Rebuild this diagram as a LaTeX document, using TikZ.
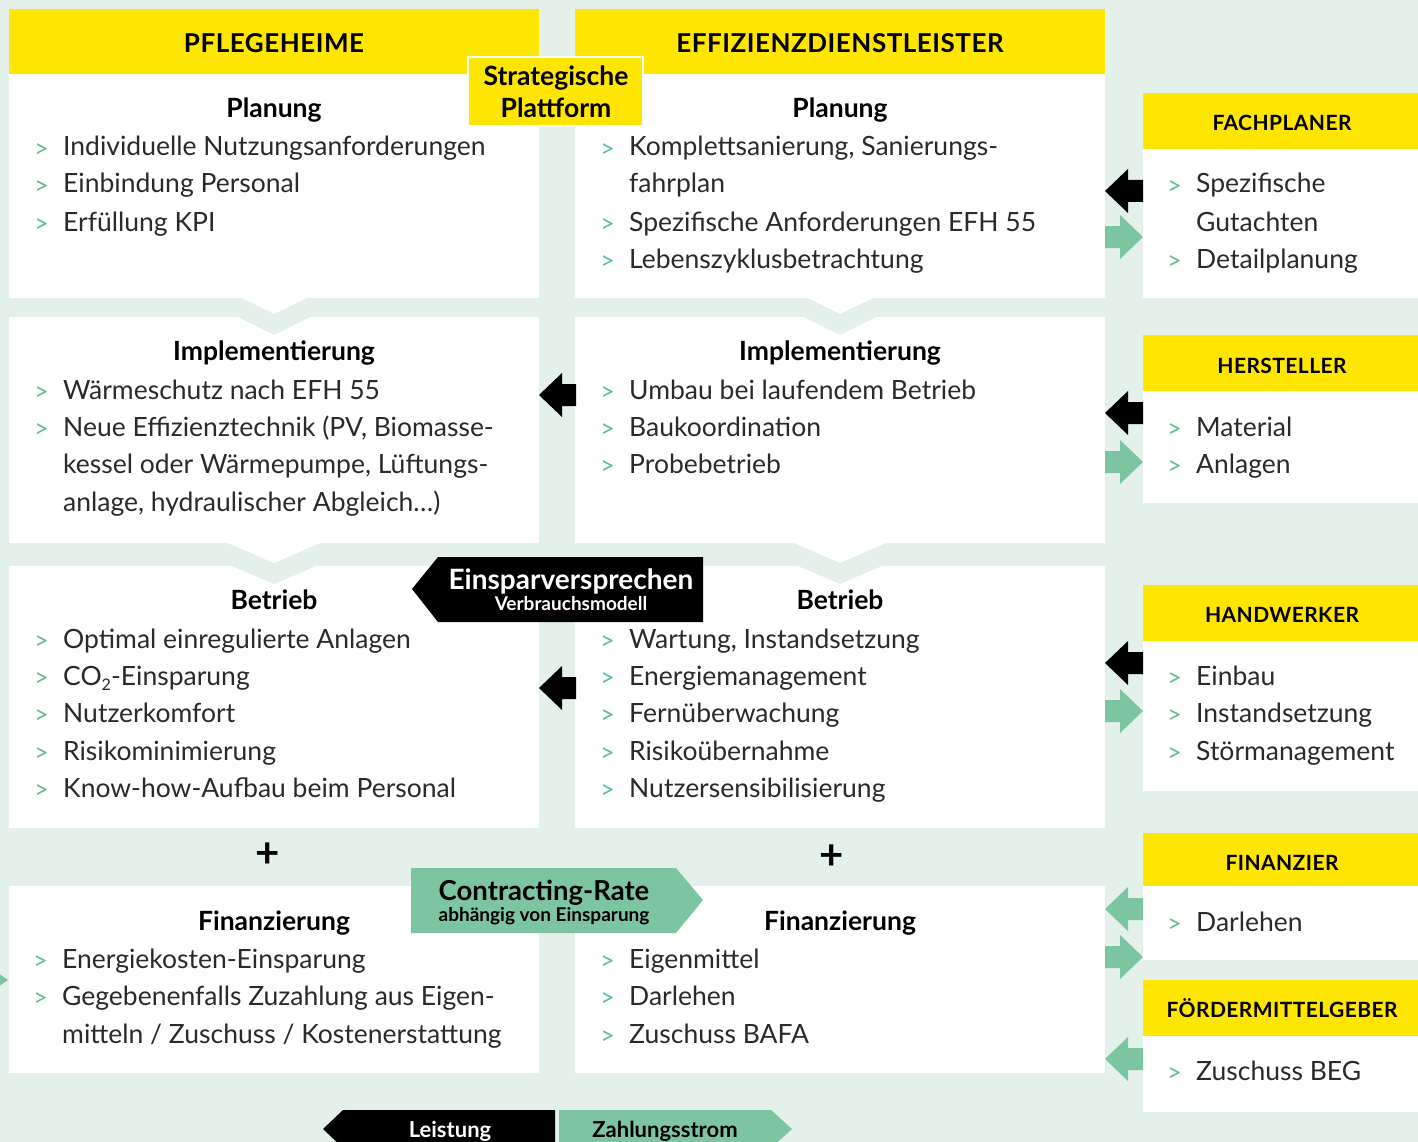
\documentclass[tikz,border=0pt]{standalone}
\usepackage{fontspec}
\setmainfont{Lato}
\definecolor{mint}{HTML}{E3F1EA}
\definecolor{gelb}{HTML}{FFE600}
\definecolor{gruen}{HTML}{7DC5A1}
\definecolor{bullgr}{HTML}{5FBE8E}
\definecolor{txt}{HTML}{2A2A2A}
\begin{document}
\begin{tikzpicture}[
				x={(1pt,0pt)},
				y={(0pt,-1pt)},
				line join=miter,
				kopf/.style={anchor=base, inner sep=0pt, font=\bfseries\fontsize{26}{30}\selectfont\addfontfeatures{LetterSpace=2}},
				seitkopf/.style={anchor=base, inner sep=0pt, font=\bfseries\fontsize{21}{24}\selectfont\addfontfeatures{LetterSpace=2}},
				titel/.style={anchor=base, inner sep=0pt, font=\bfseries\fontsize{26.5}{30}\selectfont},
				unter/.style={anchor=base, inner sep=0pt, font=\bfseries\fontsize{19}{22}\selectfont},
				punkt/.style={anchor=base west, inner sep=0pt, text=txt, text height=0.72em, text depth=0.22em,
					font=\fontsize{26.5}{30}\selectfont,
					label={[text=bullgr, inner sep=0pt, label distance=14pt, yshift=3pt, font=\fontsize{25}{26}\selectfont]west:>}},
				weiter/.style={anchor=base west, inner sep=0pt, text=txt, font=\fontsize{26.5}{30}\selectfont}
			]

			% Background
			\useasboundingbox (0,0) rectangle (1418,1142);
			\clip (0,0) rectangle (1418,1142);
			\fill[mint] (0,0) rectangle (1418,1142);

			% Columns
			\fill[gelb] (9,9) rectangle (539,74);
			\fill[gelb] (575,9) rectangle (1105,74);
			\foreach \xa/\xb in {9/539, 575/1105} {
				\fill[white] (\xa,74) rectangle (\xb,298);
				\fill[white] (\xa,317) rectangle (\xb,543);
				\fill[white] (\xa,566) rectangle (\xb,828);
				\fill[white] (\xa,886) rectangle (\xb,1073);
			}

			% Chevrons between rows
			\foreach \cx in {274, 840} {
				\fill[white] (\cx-32,298) -- (\cx,314) -- (\cx+33,298) -- cycle;
				\fill[mint] (\cx-36,317) -- (\cx,335) -- (\cx+36,317) -- cycle;
				\fill[white] (\cx-46,543) -- (\cx,563) -- (\cx+46,543) -- cycle;
				\fill[mint] (\cx-42,566) -- (\cx,584) -- (\cx+42,566) -- cycle;
			}

			% Side column
			\fill[gelb] (1143,93) rectangle (1418,149);
			\fill[white] (1143,149) rectangle (1418,298);
			\fill[gelb] (1143,335) rectangle (1418,391);
			\fill[white] (1143,391) rectangle (1418,503);
			\fill[gelb] (1143,585) rectangle (1418,641);
			\fill[white] (1143,641) rectangle (1418,791);
			\fill[gelb] (1143,833) rectangle (1418,886);
			\fill[white] (1143,886) rectangle (1418,960);
			\fill[gelb] (1143,980) rectangle (1418,1036);
			\fill[white] (1143,1036) rectangle (1418,1112);

			% Arrows
			\foreach \y in {395, 688}
				\fill[black] (539,\y) -- (562,\y-22) -- (562,\y-11) -- (576,\y-11) -- (576,\y+11) -- (562,\y+11) -- (562,\y+22) -- cycle;
			\foreach \y in {191, 413, 663}
				\fill[black] (1105,\y) -- (1128,\y-22) -- (1128,\y-11) -- (1143,\y-11) -- (1143,\y+11) -- (1128,\y+11) -- (1128,\y+22) -- cycle;
			\foreach \y in {909, 1059}
				\fill[gruen] (1105,\y) -- (1128,\y-22) -- (1128,\y-11) -- (1143,\y-11) -- (1143,\y+11) -- (1128,\y+11) -- (1128,\y+22) -- cycle;
			\foreach \y in {237, 462, 711, 957}
				\fill[gruen] (1105,\y-11) -- (1120,\y-11) -- (1120,\y-22) -- (1143,\y) -- (1120,\y+22) -- (1120,\y+11) -- (1105,\y+11) -- cycle;
			\fill[gruen] (-15,964) -- (8,980) -- (-15,996) -- cycle;

			% Headers
			\node[kopf] (pf-kopf) at (274,53) {PFLEGEHEIME};
			\node[kopf] (ed-kopf) at (840,53) {EFFIZIENZDIENSTLEISTER};
			\node[seitkopf] (fp-kopf) at (1282,131) {FACHPLANER};
			\node[seitkopf] (he-kopf) at (1282,373) {HERSTELLER};
			\node[seitkopf] (hw-kopf) at (1282,622) {HANDWERKER};
			\node[seitkopf] (fi-kopf) at (1282,870) {FINANZIER};
			\node[seitkopf] (fm-kopf) at (1282,1017) {FÖRDERMITTELGEBER};

			% Strategic platform
			\draw[fill=gelb, draw=white, line width=1.5pt] (468,57) rectangle (643,126);
			\node[titel] (plattform1) at (556,86) {Strategische};
			\node[titel] (plattform2) at (556,118) {Plattform};

			% Pflegeheime
			\node[titel] (pf-plan) at (274,118) {Planung};
			\node[punkt] (pf-plan-1) at (63,156) {Individuelle Nutzungsanforderungen};
			\node[punkt] (pf-plan-2) at (63,193) {Einbindung Personal};
			\node[punkt] (pf-plan-3) at (63,231) {Erfüllung KPI};
			\node[titel] (pf-impl) at (274,360) {Implementierung};
			\node[punkt] (pf-impl-1) at (63,399) {Wärmeschutz nach EFH 55};
			\node[punkt] (pf-impl-2) at (63,436) {Neue Effizienztechnik (PV, Biomasse-};
			\node[weiter] (pf-impl-3) at (63,473) {kessel oder Wärmepumpe, Lüftungs-};
			\node[weiter] (pf-impl-4) at (63,511) {anlage, hydraulischer Abgleich…)};
			\node[titel] (pf-betr) at (274,609) {Betrieb};
			\node[punkt] (pf-betr-1) at (63,648) {Optimal einregulierte Anlagen};
			\node[punkt] (pf-betr-2) at (63,685) {CO\raisebox{-0.4ex}{\fontsize{16}{16}\selectfont 2}-Einsparung};
			\node[punkt] (pf-betr-3) at (63,722) {Nutzerkomfort};
			\node[punkt] (pf-betr-4) at (63,760) {Risikominimierung};
			\node[punkt] (pf-betr-5) at (63,797) {Know-how-Aufbau beim Personal};
			\node[titel] (pf-fin) at (274,930) {Finanzierung};
			\node[punkt] (pf-fin-1) at (62,968) {Energiekosten-Einsparung};
			\node[punkt] (pf-fin-2) at (62,1005) {Gegebenenfalls Zuzahlung aus Eigen-};
			\node[weiter] (pf-fin-3) at (62,1043) {mitteln / Zuschuss / Kostenerstattung};

			% Effizienzdienstleister
			\node[titel] (ed-plan) at (840,118) {Planung};
			\node[punkt] (ed-plan-1) at (629,156) {Komplettsanierung, Sanierungs-};
			\node[weiter] (ed-plan-2) at (629,193) {fahrplan};
			\node[punkt] (ed-plan-3) at (629,231) {Spezifische Anforderungen EFH 55};
			\node[punkt] (ed-plan-4) at (629,268) {Lebenszyklusbetrachtung};
			\node[titel] (ed-impl) at (840,360) {Implementierung};
			\node[punkt] (ed-impl-1) at (629,399) {Umbau bei laufendem Betrieb};
			\node[punkt] (ed-impl-2) at (629,436) {Baukoordination};
			\node[punkt] (ed-impl-3) at (629,473) {Probebetrieb};
			\node[titel] (ed-betr) at (840,609) {Betrieb};
			\node[punkt] (ed-betr-1) at (629,648) {Wartung, Instandsetzung};
			\node[punkt] (ed-betr-2) at (629,685) {Energiemanagement};
			\node[punkt] (ed-betr-3) at (629,722) {Fernüberwachung};
			\node[punkt] (ed-betr-4) at (629,760) {Risikoübernahme};
			\node[punkt] (ed-betr-5) at (629,797) {Nutzersensibilisierung};
			\node[titel] (ed-fin) at (840,930) {Finanzierung};
			\node[punkt] (ed-fin-1) at (629,968) {Eigenmittel};
			\node[punkt] (ed-fin-2) at (629,1005) {Darlehen};
			\node[punkt] (ed-fin-3) at (629,1043) {Zuschuss BAFA};

			% Side partners
			\node[punkt] (fp-1) at (1196,193) {Spezifische};
			\node[weiter] (fp-2) at (1196,231) {Gutachten};
			\node[punkt] (fp-3) at (1196,268) {Detailplanung};
			\node[punkt] (he-1) at (1196,436) {Material};
			\node[punkt] (he-2) at (1196,473) {Anlagen};
			\node[punkt] (hw-1) at (1196,685) {Einbau};
			\node[punkt] (hw-2) at (1196,722) {Instandsetzung};
			\node[punkt] (hw-3) at (1196,760) {Störmanagement};
			\node[punkt] (fi-1) at (1196,931) {Darlehen};
			\node[punkt] (fm-1) at (1196,1080) {Zuschuss BEG};

			% Plus signs
			\node[inner sep=0pt, font=\bfseries\fontsize{42}{42}\selectfont] (plus-pf) at (268,855) {+};
			\node[inner sep=0pt, font=\bfseries\fontsize{42}{42}\selectfont] (plus-ed) at (832,857) {+};

			% Einsparversprechen
			\fill[black] (703,557) -- (438,557) -- (412,589) -- (438,622) -- (703,622) -- cycle;
			\node[titel, text=white, font=\bfseries\fontsize{28}{30}\selectfont] (einspar) at (571,589) {Einsparversprechen};
			\node[unter, text=white] (verbrauch) at (571,610) {Verbrauchsmodell};

			% Contracting-Rate
			\fill[gruen] (411,868) -- (676,868) -- (703,900) -- (676,933) -- (411,933) -- cycle;
			\node[titel, font=\bfseries\fontsize{27.5}{30}\selectfont] (rate) at (544,900) {Contracting-Rate};
			\node[unter] (rate-sub) at (544,921) {abhängig von Einsparung};

			% Legend
			\fill[black] (555,1110) -- (343,1110) -- (323,1129) -- (343,1148) -- (555,1148) -- cycle;
			\fill[gruen] (559,1110) -- (771,1110) -- (792,1129) -- (771,1148) -- (559,1148) -- cycle;
			\node[unter, text=white, font=\bfseries\fontsize{22}{24}\selectfont] (leistung) at (450,1137) {Leistung};
			\node[unter, font=\bfseries\fontsize{22}{24}\selectfont] (zahlung) at (665,1137) {Zahlungsstrom};

		\end{tikzpicture}
\end{document}
